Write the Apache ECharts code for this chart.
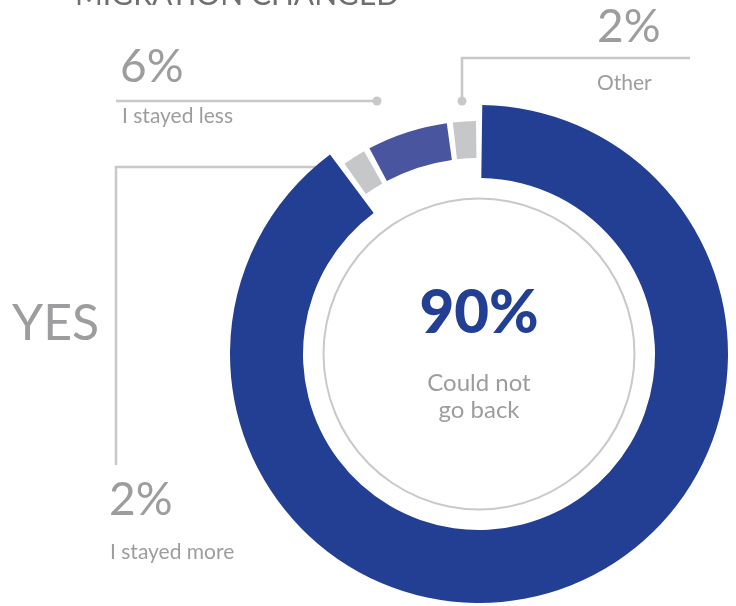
<!DOCTYPE html>
<html>
<head>
<meta charset="utf-8">
<script src="https://cdn.jsdelivr.net/npm/echarts@6/dist/echarts.min.js"></script>
<style>
  html, body { margin: 0; padding: 0; background: #ffffff; }
  #chart { width: 736px; height: 606px; }
</style>
</head>
<body>
<div id="chart"></div>
<script>
// Answers and their shares (percent), in clockwise order from 12 o'clock
const categories = ['Could not go back', 'I stayed more', 'I stayed less', 'Other'];
const shares = [90, 2, 6, 2];
const shareLabels = shares.map(v => v + '%');
const sliceColors = ['#223f93', '#c6c7c9', '#4a55a0', '#c6c7c9'];
const titleText = 'MIGRATION CHANGED';
const groupLabel = 'YES';
const centerCaption = ['Could not', 'go back'];

const CX = 479, CY = 354;
const FONT = 'Lato, "Open Sans", sans-serif';
const GREY_TEXT = '#9d9d9f';
const LINE = '#c8c8c8';

// The main answer sits on a wide ring, the minor answers on a narrower inset ring.
function ringData(isShown) {
  return categories.map((name, i) => ({
    name,
    value: shares[i],
    itemStyle: { color: isShown(i) ? sliceColors[i] : 'rgba(0,0,0,0)' }
  }));
}

const pieBase = {
  type: 'pie',
  center: [CX, CY],
  startAngle: 90,
  clockwise: true,
  padAngle: 1.5,
  silent: true,
  avoidLabelOverlap: false,
  label: { show: false },
  labelLine: { show: false },
  emphasis: { disabled: true },
  animation: false
};

// Text placed by its alphabetic baseline
function txt(x, baseline, str, size, opts) {
  opts = opts || {};
  return {
    type: 'text',
    silent: true,
    style: {
      text: str,
      x: x,
      y: baseline - 0.38 * size,
      fill: opts.fill || GREY_TEXT,
      font: (opts.weight || 'normal') + ' ' + size + 'px ' + FONT,
      align: opts.align || 'left',
      verticalAlign: 'middle'
    }
  };
}
function line(points) {
  return { type: 'polyline', silent: true, shape: { points }, style: { stroke: LINE, lineWidth: 2.5, fill: null } };
}
function dot(x, y) {
  return { type: 'circle', silent: true, shape: { cx: x, cy: y, r: 4.5 }, style: { fill: LINE } };
}

const chart = echarts.init(document.getElementById('chart'), null, { renderer: 'canvas' });

chart.setOption({
  backgroundColor: '#ffffff',
  animation: false,
  series: [
    Object.assign({}, pieBase, { name: 'main', radius: [176, 249], data: ringData(i => i === 0) }),
    Object.assign({}, pieBase, { name: 'minor', radius: [196, 233], data: ringData(i => i !== 0) }),
    Object.assign({}, pieBase, {
      name: 'inner ring', radius: [154.5, 156.5], padAngle: 0,
      data: [{ value: 1, itemStyle: { color: '#c9c9c9' } }]
    })
  ],
  graphic: [
    txt(75, 7, titleText, 30, { fill: '#6f6f71' }),

    // Other
    line([[462, 101], [462, 58], [690, 58]]),
    dot(462, 101),
    txt(597, 45, shareLabels[3], 46),
    txt(597, 91, categories[3], 21),

    // I stayed less
    line([[116, 101], [377, 101]]),
    dot(377, 101),
    txt(120, 85, shareLabels[2], 46),
    txt(122, 124, categories[2], 21),

    // I stayed more, bracketed under the YES group
    line([[324, 167], [116, 167], [116, 465]]),
    dot(324, 167),
    txt(109, 518, shareLabels[1], 46),
    txt(110, 560, categories[1], 21),
    txt(12, 343, groupLabel, 50),

    // Centre
    txt(CX, 336, shareLabels[0], 60, { weight: 900, fill: '#223f93', align: 'center' }),
    txt(CX, 392, centerCaption[0], 24, { align: 'center' }),
    txt(CX, 419, centerCaption[1], 24, { align: 'center' })
  ]
});
</script>
</body>
</html>
